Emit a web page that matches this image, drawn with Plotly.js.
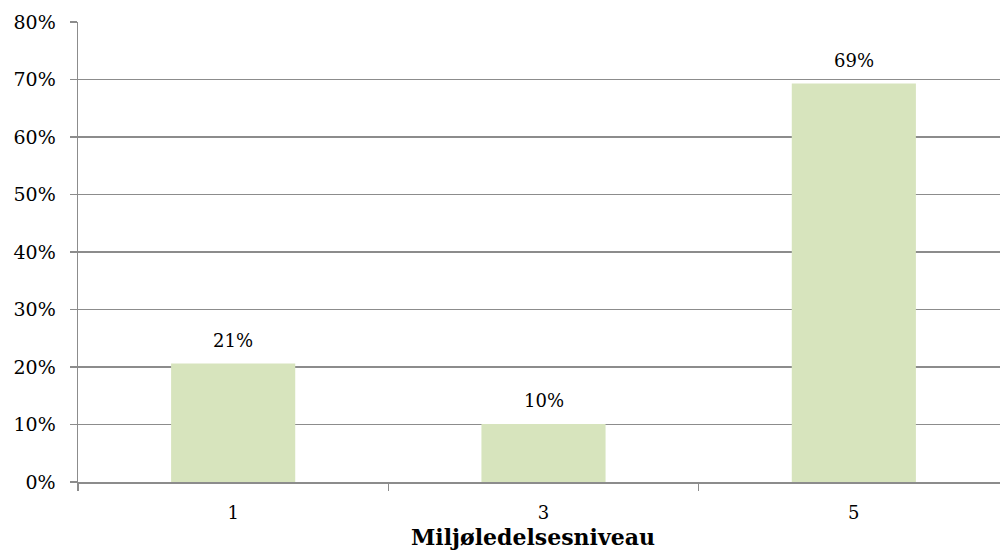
<!DOCTYPE html>
<html>
<head>
<meta charset="utf-8">
<script src="https://cdn.plot.ly/plotly-3.0.1.min.js"></script>
<style>
html,body{margin:0;padding:0;overflow:hidden;background:#fff;}
#chart{width:1009px;height:556px;}
</style>
</head>
<body>
<div id="chart"></div>
<script>
const categories = ["1", "3", "5"];
const values = [20.6, 10.1, 69.3];
const valueLabels = ["21%", "10%", "69%"];
const xTitle = "Miljøledelsesniveau";

const font = "'DejaVu Serif', 'Liberation Serif', serif";

const trace = {
  type: "bar",
  x: categories,
  y: values,
  marker: {color: "#d7e4bd", line: {width: 0}},
  width: 0.4,
  hoverinfo: "skip"
};

const annotations = categories.map((c, i) => ({
  x: i, y: values[i], text: valueLabels[i],
  xref: "x", yref: "y",
  showarrow: false, yanchor: "bottom", yshift: 11,
  font: {family: font, size: 18, color: "#000"}
}));

annotations.push({
  xref: "paper", yref: "paper", x: 0.489, y: 0,
  xanchor: "center", yanchor: "top", yshift: -40,
  showarrow: false,
  text: "<b>" + xTitle + "</b>",
  font: {family: font, size: 22, color: "#000"}
});

const layout = {
  width: 1009, height: 556,
  margin: {l: 78, r: 0, t: 22, b: 74},
  paper_bgcolor: "#fff", plot_bgcolor: "#fff",
  showlegend: false,
  font: {family: font, size: 18, color: "#000"},
  xaxis: {
    type: "category",
    range: [-0.5, 2.5],
    tickson: "boundaries",
    ticks: "outside", ticklen: 7, tickwidth: 1.5, tickcolor: "#8c8c8c",
    showline: true, linecolor: "#8c8c8c", linewidth: 1.5,
    showgrid: false, zeroline: false,
    tickfont: {family: font, size: 18, color: "#000"},
    ticklabelstandoff: 14
  },
  yaxis: {
    range: [0, 80], dtick: 10, tick0: 0,
    ticksuffix: "%",
    ticks: "outside", ticklen: 7, tickwidth: 1.5, tickcolor: "#8c8c8c",
    showline: true, linecolor: "#8c8c8c", linewidth: 1.5,
    showgrid: true, gridcolor: "#8c8c8c", gridwidth: 1.5,
    zeroline: false,
    tickfont: {family: font, size: 19, color: "#000"},
    ticklabelstandoff: 10
  },
  annotations: annotations
};

Plotly.newPlot("chart", [trace], layout, {displayModeBar: false, staticPlot: true});
</script>
</body>
</html>
